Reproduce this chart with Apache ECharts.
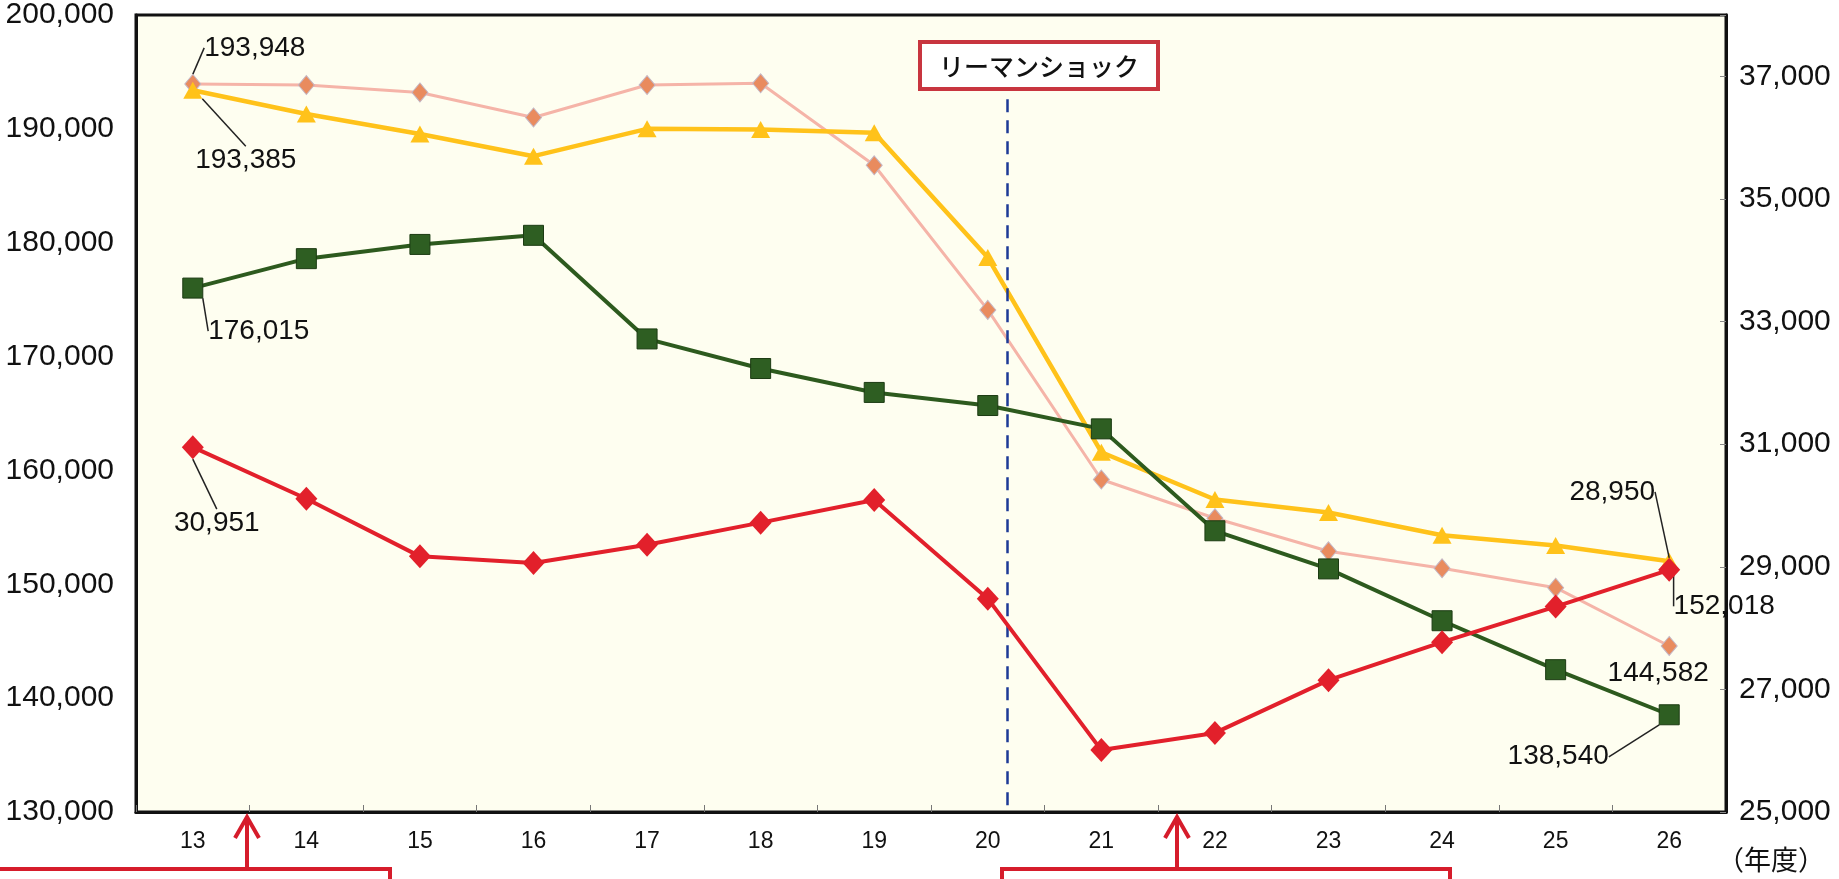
<!DOCTYPE html>
<html lang="ja">
<head>
<meta charset="utf-8">
<title>リーマンショック前後の推移</title>
<script src="https://cdn.jsdelivr.net/npm/echarts@6/dist/echarts.min.js"></script>
<style>
  html, body { margin: 0; padding: 0; background: #ffffff; }
  #chart { width: 1839px; height: 879px; }
</style>
</head>
<body>
<div id="chart"></div>
<script>
// 年度（平成）
const years = ['13', '14', '15', '16', '17', '18', '19', '20', '21', '22', '23', '24', '25', '26'];

// 左軸の系列
const seriesPink   = [193948, 193850, 193200, 191000, 193850, 194000, 186800, 174100, 159200, 155800, 152900, 151400, 149700, 144582];
const seriesYellow = [193385, 191300, 189550, 187600, 190000, 189950, 189650, 178700, 161600, 157450, 156300, 154300, 153400, 152018];
const seriesGreen  = [176015, 178600, 179850, 180650, 171550, 168950, 166850, 165700, 163650, 154700, 151350, 146800, 142500, 138540];

// 右軸の系列
const seriesRed    = [30951, 30110, 29170, 29060, 29360, 29720, 30090, 28480, 26010, 26290, 27150, 27770, 28350, 28950];

// 目盛り
const leftTicks  = [130000, 140000, 150000, 160000, 170000, 180000, 190000, 200000];
const rightTicks = [25000, 27000, 29000, 31000, 33000, 35000, 37000];

// リーマンショックの位置（年度軸上）と破線の上端
const shockYear = 20.17;
const shockTop = 192600;

const fmt = v => Number(v).toLocaleString('en-US');
const numFont = "'Liberation Sans', Arial, sans-serif";
const jpFont = "'Noto Sans CJK JP', sans-serif";

// 最初と最後の値ラベルの配置（点からのずれ）
const labelShift = [
  { first: [62, -36], last: [-11, 27] },   // 薄赤
  { first: [53, 70],  last: [55, 45] },    // 黄
  { first: [66, 43],  last: [-111, 42] },  // 緑
  { first: [24, 76],  last: [-57, -78] }   // 赤
];

function withEndLabels(values, hideLastLine) {
  const last = values.length - 1;
  return values.map((v, i) => {
    const item = { value: v };
    if (i === 0 || i === last) {
      item.label = { show: true };
      if (i === last && hideLastLine) item.labelLine = { show: false };
    }
    return item;
  });
}

const valueLabel = {
  show: false,
  position: 'inside',
  fontSize: 28,
  fontFamily: numFont,
  color: '#111',
  formatter: p => fmt(p.value)
};
const leader = { show: true, lineStyle: { color: '#222', width: 1.5 } };

function endLabelLayout(params) {
  const s = labelShift[params.seriesIndex];
  if (!s) return {};
  const o = params.dataIndex === 0 ? s.first : s.last;
  return { dx: o[0], dy: o[1] };
}

const chart = echarts.init(document.getElementById('chart'), null, { renderer: 'canvas' });

chart.setOption({
  animation: false,
  backgroundColor: '#ffffff',
  textStyle: { fontFamily: numFont },
  grid: {
    show: true,
    left: 136, right: 113, top: 13, bottom: 67,
    backgroundColor: '#FEFEF0',
    borderColor: '#111',
    borderWidth: 3
  },
  xAxis: [
    {
      type: 'category',
      data: years,
      boundaryGap: true,
      axisLine: { lineStyle: { color: '#111', width: 3 } },
      axisTick: { show: true, inside: true, length: 7, lineStyle: { color: '#777', width: 1 } },
      axisLabel: { fontSize: 23, color: '#111', margin: 18, fontFamily: numFont },
      splitLine: { show: false },
      name: '（年度）',
      nameLocation: 'end',
      nameGap: -9,
      nameTextStyle: { fontSize: 27, color: '#111', fontFamily: jpFont, verticalAlign: 'top', padding: [34, 0, 0, 0] }
    },
    {
      type: 'value',
      min: 12.5,
      max: 26.5,
      show: false
    }
  ],
  yAxis: [
    {
      type: 'value',
      min: 130000,
      max: 200000,
      interval: 10000,
      axisLine: { show: true, lineStyle: { color: '#111', width: 3 } },
      axisTick: { show: false },
      axisLabel: {
        fontSize: 30, color: '#111', margin: 22, fontFamily: numFont,
        formatter: v => leftTicks.includes(v) ? fmt(v) : ''
      },
      splitLine: { show: false }
    },
    {
      type: 'value',
      position: 'right',
      min: 25000,
      max: 38000,
      interval: 2000,
      z: 10,
      axisLine: { show: true, lineStyle: { color: '#111', width: 3 } },
      axisTick: { show: true, inside: true, length: 6, lineStyle: { color: '#888', width: 1 } },
      axisLabel: {
        fontSize: 30, color: '#111', margin: 13, fontFamily: numFont,
        formatter: v => rightTicks.includes(v) ? fmt(v) : ''
      },
      splitLine: { show: false }
    }
  ],
  series: [
    {
      name: '系列1',
      type: 'line',
      yAxisIndex: 0,
      data: withEndLabels(seriesPink, true),
      symbol: 'diamond',
      symbolSize: [16, 19],
      itemStyle: { color: '#E98B5E', borderColor: '#C4B6C4', borderWidth: 1 },
      lineStyle: { color: '#F5B4A8', width: 3 },
      label: valueLabel,
      labelLine: leader,
      labelLayout: endLabelLayout,
      emphasis: { disabled: true },
      z: 2
    },
    {
      name: '系列2',
      type: 'line',
      yAxisIndex: 0,
      data: withEndLabels(seriesYellow, false),
      symbol: 'triangle',
      symbolSize: [19, 17],
      itemStyle: { color: '#FFC21A' },
      lineStyle: { color: '#FFC21A', width: 4.5 },
      label: valueLabel,
      labelLine: leader,
      labelLayout: endLabelLayout,
      emphasis: { disabled: true },
      z: 3
    },
    {
      name: '系列3',
      type: 'line',
      yAxisIndex: 0,
      data: withEndLabels(seriesGreen, false),
      symbol: 'rect',
      symbolSize: 20,
      itemStyle: { color: '#2E5E22', borderColor: '#1C3B13', borderWidth: 1 },
      lineStyle: { color: '#2D5A1E', width: 4 },
      label: valueLabel,
      labelLine: leader,
      labelLayout: endLabelLayout,
      emphasis: { disabled: true },
      z: 4
    },
    {
      name: '系列4',
      type: 'line',
      yAxisIndex: 1,
      data: withEndLabels(seriesRed, false),
      symbol: 'diamond',
      symbolSize: [22, 24],
      itemStyle: { color: '#E2202B' },
      lineStyle: { color: '#E2202B', width: 4 },
      label: valueLabel,
      labelLine: leader,
      labelLayout: endLabelLayout,
      emphasis: { disabled: true },
      z: 5
    },
    {
      // リーマンショックの破線
      name: 'shock',
      type: 'line',
      xAxisIndex: 1,
      yAxisIndex: 0,
      data: [],
      silent: true,
      markLine: {
        silent: true,
        symbol: 'none',
        label: { show: false },
        lineStyle: { color: '#1D3A96', type: [13, 8], width: 2.5 },
        data: [[{ coord: [shockYear, shockTop] }, { coord: [shockYear, 130000] }]]
      },
      z: 6
    }
  ],
  graphic: [
    {
      // リーマンショックの見出し
      type: 'group',
      left: 918,
      top: 40,
      children: [
        { type: 'rect', shape: { x: 0, y: 0, width: 238, height: 47 },
          style: { fill: '#ffffff', stroke: '#C8353F', lineWidth: 4 } },
        { type: 'text', x: 119, y: 24,
          style: { text: 'リーマンショック', fill: '#111', font: '500 25px ' + jpFont, align: 'center', verticalAlign: 'middle' } }
      ],
      z: 20
    },
    // 下部の注記枠と矢印
    { type: 'rect', shape: { x: -10, y: 869, width: 400, height: 60 },
      style: { fill: 'none', stroke: '#D61C2B', lineWidth: 4 }, z: 20 },
    { type: 'polyline', shape: { points: [[247, 869], [247, 817]] },
      style: { stroke: '#D61C2B', lineWidth: 4, fill: 'none' }, z: 20 },
    { type: 'polyline', shape: { points: [[235, 838], [247, 817], [259, 838]] },
      style: { stroke: '#D61C2B', lineWidth: 4, fill: 'none' }, z: 20 },
    { type: 'rect', shape: { x: 1002, y: 869, width: 448, height: 60 },
      style: { fill: 'none', stroke: '#D61C2B', lineWidth: 4 }, z: 20 },
    { type: 'polyline', shape: { points: [[1177, 869], [1177, 817]] },
      style: { stroke: '#D61C2B', lineWidth: 4, fill: 'none' }, z: 20 },
    { type: 'polyline', shape: { points: [[1165, 838], [1177, 817], [1189, 838]] },
      style: { stroke: '#D61C2B', lineWidth: 4, fill: 'none' }, z: 20 }
  ]
});
</script>
</body>
</html>
